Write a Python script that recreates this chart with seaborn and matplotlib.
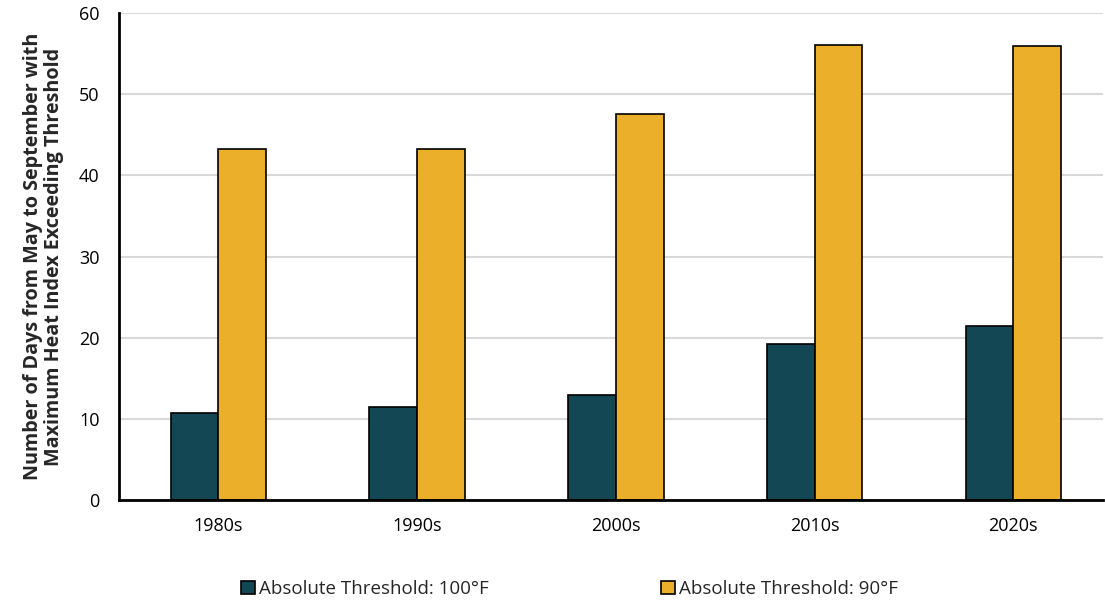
import matplotlib
matplotlib.use("Agg")
import matplotlib.pyplot as plt
import seaborn as sns
import pandas as pd

decades = ["1980s", "1990s", "2000s", "2010s", "2020s"]
series_names = ["Absolute Threshold: 100°F", "Absolute Threshold: 90°F"]
days_100 = [10.7, 11.5, 12.9, 19.2, 21.4]
days_90 = [43.2, 43.3, 47.5, 56.1, 55.9]
colors = ["#134753", "#EBAF29"]

df = pd.DataFrame({
    "Decade": decades * 2,
    "Series": [series_names[0]] * len(decades) + [series_names[1]] * len(decades),
    "Days": days_100 + days_90,
})

sns.set_style("white")
plt.rcParams['font.family'] = ['Open Sans', 'DejaVu Sans']

fig = plt.figure(figsize=(11.05, 6.04), dpi=100)
ax = fig.add_axes([0.1077, 0.172, 0.8903, 0.8065])

sns.barplot(data=df, x="Decade", y="Days", hue="Series", palette=colors,
            saturation=1, width=0.48, gap=0, edgecolor="black", linewidth=1.2,
            ax=ax, errorbar=None, legend=True)

ax.set_ylim(0, 60)
ax.set_xlim(-0.5, 4.45)
ax.set_yticks([0, 10, 20, 30, 40, 50, 60])
ax.yaxis.grid(True, color="#d9d9d9", linewidth=1.5)
ax.set_axisbelow(True)
for s in ["top", "right"]:
    ax.spines[s].set_visible(False)
for s in ["left", "bottom"]:
    ax.spines[s].set_color("black")
    ax.spines[s].set_linewidth(2)
ax.tick_params(axis="both", length=0, labelsize=13, colors="black")
ax.tick_params(axis="x", pad=12)
ax.tick_params(axis="y", pad=14)
ax.set_xlabel("")
ax.set_ylabel("Number of Days from May to September with\nMaximum Heat Index Exceeding Threshold",
              fontsize=14.2, fontweight="bold", labelpad=11, linespacing=1.05)

handles, labels = ax.get_legend_handles_labels()
ax.get_legend().remove()
fig.legend(handles, labels, loc="lower left", bbox_to_anchor=(0.203, -0.018), ncol=2,
           frameon=False, fontsize=13.5, handlelength=0.75, handleheight=0.75,
           handletextpad=0.2, columnspacing=9.2)

fig.savefig("out.png", dpi=100)
